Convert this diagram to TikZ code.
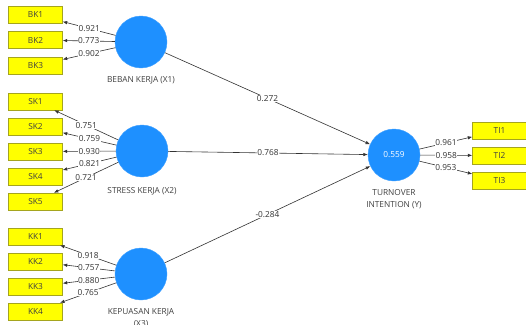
\documentclass[tikz,border=0pt]{standalone}
\usepackage{fontspec}
\setmainfont{Open Sans}
\usetikzlibrary{arrows.meta,positioning}
\definecolor{lvblue}{RGB}{30,144,255}
\definecolor{indyel}{RGB}{255,255,0}
\definecolor{indbrd}{RGB}{165,165,30}

\begin{document}
\begin{tikzpicture}[
  x=1pt, y=-1pt,
  font=\fontsize{8.3}{12.5}\selectfont,
  lv/.style={circle, fill=lvblue, draw=lvblue!85!white, minimum size=52pt, inner sep=0pt, text=white},
  ind/.style={draw=indbrd, fill=indyel, minimum width=54pt, minimum height=17pt, inner sep=0pt, text=black!75},
  lbl/.style={align=center, text=black!75, inner sep=1pt},
  ld/.style={-{Latex[length=4.5pt,width=3.5pt]}, draw=black!80, line width=0.6pt},
  val/.style={midway, fill=white, inner sep=0.6pt, text=black!80},
]
\useasboundingbox[fill=white] (0,0) rectangle (526,324);
% latent variables
\node[lv] (bk) at (141,42) {};
\node[lv] (sk) at (142,151) {};
\node[lv] (kk) at (141,274) {};
\node[lv] (ti) at (394,155) {0.559};
\node[lbl] (bkl) at (141,80) {BEBAN KERJA (X1)};
\node[lbl] (skl) at (142,191) {STRESS KERJA (X2)};
\node[lbl] (kkl) at (141,318) {KEPUASAN KERJA\\(X3)};
\node[lbl] (til) at (394,199) {TURNOVER\\INTENTION (Y)};

% indicators
\foreach \i/\y in {1/14.5,2/40,3/65.5}{\node[ind] (bk\i) at (35.5,\y) {BK\i};}
\foreach \i/\y in {1/101.5,2/126.5,3/151.5,4/176.5,5/201.5}{\node[ind] (sk\i) at (35.5,\y) {SK\i};}
\foreach \i/\y in {1/236.5,2/261.5,3/286.5,4/311.5}{\node[ind] (kk\i) at (35.5,\y) {KK\i};}
\foreach \i/\y in {1/130.5,2/155.5,3/180.5}{\node[ind] (ti\i) at (499.5,\y) {TI\i};}

% outer loadings
\foreach \i/\v in {1/0.921,2/0.773,3/0.902}{\draw[ld] (bk)--(bk\i) node[val]{\v};}
\foreach \i/\v in {1/0.751,2/0.759,3/0.930,4/0.821,5/0.721}{\draw[ld] (sk)--(sk\i) node[val]{\v};}
\foreach \i/\v in {1/0.918,2/0.757,3/0.880,4/0.765}{\draw[ld] (kk)--(kk\i) node[val]{\v};}
\foreach \i/\v in {1/0.961,2/0.958,3/0.953}{\draw[ld] (ti)--(ti\i) node[val]{\v};}

% path coefficients
\draw[ld] (bk)--(ti) node[val]{0.272};
\draw[ld] (sk)--(ti) node[val]{0.768};
\draw[ld] (kk)--(ti) node[val]{-0.284};

\end{tikzpicture}
\end{document}
